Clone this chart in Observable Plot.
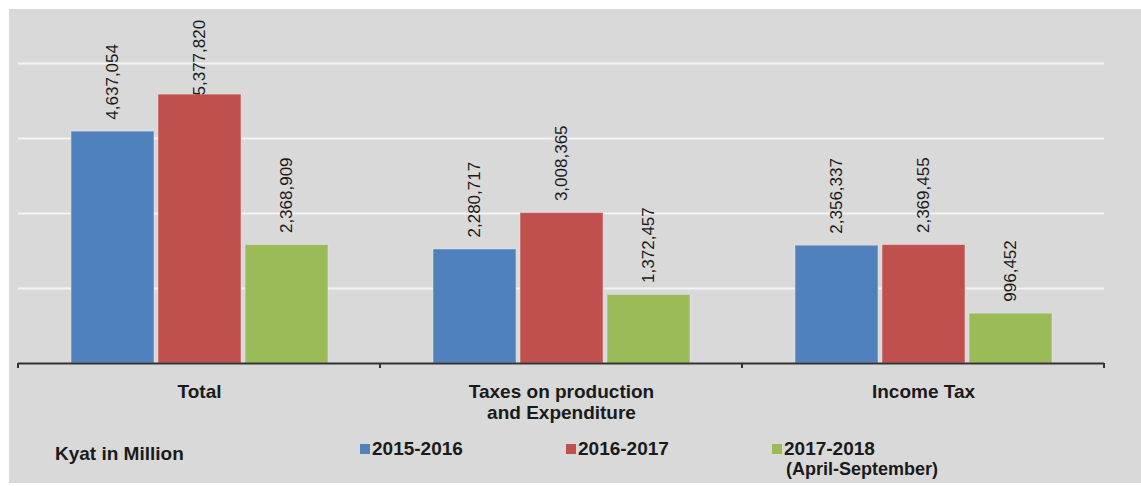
<!DOCTYPE html>
<html>
<head>
<meta charset="utf-8">
<script src="https://cdn.jsdelivr.net/npm/d3@7"></script>
<script src="https://cdn.jsdelivr.net/npm/@observablehq/plot@0.6"></script>
<style>
  html, body { margin: 0; padding: 0; background: #ffffff; }
  #chart { position: absolute; left: 9px; top: 9px; width: 1132px; height: 474px; background: #d9d9d9;
           font-family: "Liberation Sans", Arial, sans-serif; color: #1a1a1a; overflow: hidden; }
  #chart svg { position: absolute; left: 0; top: 0; }
  .lg { position: absolute; font-weight: bold; font-size: 19px; line-height: 19px; white-space: nowrap; }
  .sw { position: absolute; width: 10px; height: 10px; }
</style>
</head>
<body>
<div id="chart"></div>
<script>
// ---- data ----
const categories = ["Total", "Taxes on production\nand Expenditure", "Income Tax"];
const seriesNames = ["2015-2016", "2016-2017", "2017-2018"];
const values2015 = [4637054, 2280717, 2356337];
const values2016 = [5377820, 3008365, 2369455];
const values2017 = [2368909, 1372457, 996452];
const seriesColors = ["#4f81bd", "#c0504d", "#9bbb59"];
const gridValues = [1500000, 3000000, 4500000, 6000000];
const unitLabel = "Kyat in Million";
const legendNote = "(April-September)";

const seriesValues = [values2015, values2016, values2017];
const rows = [];
categories.forEach((c, i) => {
  seriesNames.forEach((s, j) => rows.push({category: c, series: s, value: seriesValues[j][i]}));
});

// labels that would run past the top of the plot are pulled down (as Excel does)
const labelCap = 5120000;
const fmt = d3.format(",");

const plot = Plot.plot({
  width: 1132,
  height: 420,
  marginLeft: 8,
  marginRight: 36,
  marginTop: 4,
  marginBottom: 66,
  style: {background: "transparent", fontFamily: "'Liberation Sans', Arial, sans-serif", fontSize: "19px", color: "#1a1a1a", overflow: "visible"},
  fx: {domain: categories, padding: 0, label: null, axis: null},
  x: {domain: seriesNames, paddingInner: 0.046, paddingOuter: 0.603, axis: null},
  y: {domain: [0, 7000000], axis: null},
  color: {domain: seriesNames, range: seriesColors},
  marks: [
    Plot.ruleY(gridValues, {stroke: "#f4f4f4", strokeWidth: 2}),
    Plot.barY(rows, {fx: "category", x: "series", y: "value", fill: "series", stroke: "#eeeeee", strokeOpacity: 0.45, strokeWidth: 1}),
    Plot.ruleY([0], {stroke: "#333333", strokeWidth: 2}),
    Plot.text(rows, {
      fx: "category", x: "series",
      y: d => Math.min(d.value, labelCap),
      text: d => fmt(d.value),
      rotate: -90, textAnchor: "start", dy: -12,
      fontSize: 17, fontWeight: "normal", fill: "#1a1a1a"
    }),
    Plot.axisFx({anchor: "bottom", tickSize: 0, tickPadding: 20, fontWeight: "bold", fontSize: 19, lineHeight: 1.1, label: null})
  ]
});

document.getElementById("chart").appendChild(plot);

// tick marks at category boundaries on the baseline
const fxS = plot.scale("fx");
const yS = plot.scale("y");
const y0 = yS.apply(0);
const bounds = categories.map(c => fxS.apply(c));
bounds.push(fxS.apply(categories[categories.length - 1]) + fxS.bandwidth);
d3.select(plot).append("g")
  .selectAll("line").data(bounds).join("line")
  .attr("x1", d => d).attr("x2", d => d)
  .attr("y1", y0).attr("y2", y0 + 5)
  .attr("stroke", "#333333").attr("stroke-width", 2);

// legend
const chart = document.getElementById("chart");
function addText(txt, left, top, size) {
  const el = document.createElement("div");
  el.className = "lg";
  el.textContent = txt;
  el.style.left = left + "px";
  el.style.top = top + "px";
  if (size) { el.style.fontSize = size + "px"; el.style.lineHeight = size + "px"; }
  chart.appendChild(el);
}
addText(unitLabel, 46, 435);
const legendX = [351, 557, 763];
seriesNames.forEach((s, i) => {
  const sw = document.createElement("div");
  sw.className = "sw";
  sw.style.left = legendX[i] + "px";
  sw.style.top = "435px";
  sw.style.background = seriesColors[i];
  chart.appendChild(sw);
  addText(s, legendX[i] + 12, 430);
});
addText(legendNote, legendX[2] + 14, 451, 18);
</script>
</body>
</html>
